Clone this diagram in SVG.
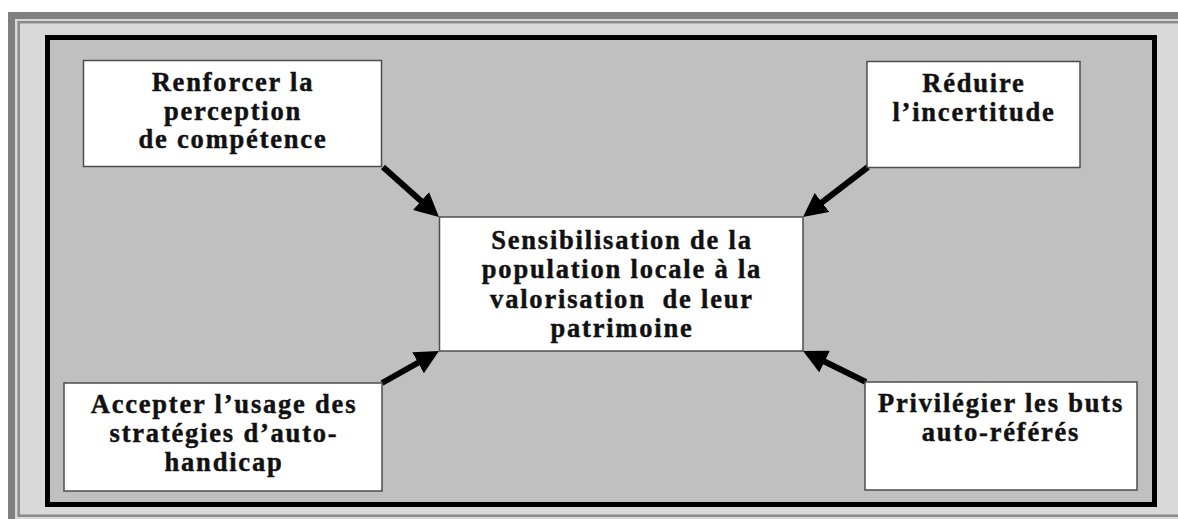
<svg xmlns="http://www.w3.org/2000/svg" width="1178" height="519" viewBox="0 0 1178 519">
  <style>
    .node rect { fill: #ffffff; stroke: #4d4d4d; stroke-width: 1.5; }
    .node text { font-family: "Liberation Serif", "Times New Roman", serif; font-weight: bold; font-size: 26.5px; letter-spacing: 1.8px; fill: #111111; stroke: #111111; stroke-width: 0.45; text-anchor: middle; }
    .conn line { stroke: #000000; stroke-width: 6; }
  </style>
  <defs>
    <marker id="head" markerUnits="userSpaceOnUse" viewBox="0 0 24 24" refX="12" refY="12" markerWidth="24" markerHeight="24" orient="auto">
      <path d="M0,0 L24,12 L0,24 z" fill="#000000"/>
    </marker>
  </defs>
  <rect x="0" y="0" width="1178" height="519" fill="#ffffff"/>
  <g id="frame">
    <rect x="8" y="12" width="1200" height="520" fill="#808080"/>
    <rect x="15" y="19" width="1200" height="510" fill="#d9d9d9"/>
    <rect x="18.7" y="22.2" width="1200" height="493.5" fill="none" stroke="#8a8a8a" stroke-width="2.5"/>
    <rect x="47.5" y="37.5" width="1107" height="467" fill="#c0c0c0" stroke="#000000" stroke-width="5"/>
  </g>
  <g id="connectors" class="conn">
    <line x1="383" y1="167" x2="430" y2="209" marker-end="url(#head)"/>
    <line x1="868" y1="167" x2="812.5" y2="209.7" marker-end="url(#head)"/>
    <line x1="382" y1="383" x2="428.5" y2="356.9" marker-end="url(#head)"/>
    <line x1="866" y1="382" x2="813.8" y2="356.3" marker-end="url(#head)"/>
  </g>
  <g id="node-competence" class="node">
    <rect x="83.5" y="60.5" width="298" height="106"/>
    <text x="233" y="91">Renforcer la</text>
    <text x="233" y="120">perception</text>
    <text x="233" y="148">de compétence</text>
  </g>
  <g id="node-incertitude" class="node">
    <rect x="867" y="61.5" width="213" height="106"/>
    <text x="974" y="92">Réduire</text>
    <text x="974" y="121">l’incertitude</text>
  </g>
  <g id="node-center" class="node">
    <rect x="439.5" y="217" width="363.5" height="134"/>
    <text x="622" y="249">Sensibilisation de la</text>
    <text x="622" y="278">population locale à la</text>
    <text x="622" y="308">valorisation&#160; de leur</text>
    <text x="622" y="337">patrimoine</text>
  </g>
  <g id="node-handicap" class="node">
    <rect x="64" y="383" width="318" height="108"/>
    <text x="224" y="413">Accepter l’usage des</text>
    <text x="224" y="442">stratégies d’auto-</text>
    <text x="224" y="471">handicap</text>
  </g>
  <g id="node-buts" class="node">
    <rect x="865" y="382" width="272" height="108"/>
    <text x="1001" y="412">Privilégier les buts</text>
    <text x="1001" y="441">auto-référés</text>
  </g>
</svg>
